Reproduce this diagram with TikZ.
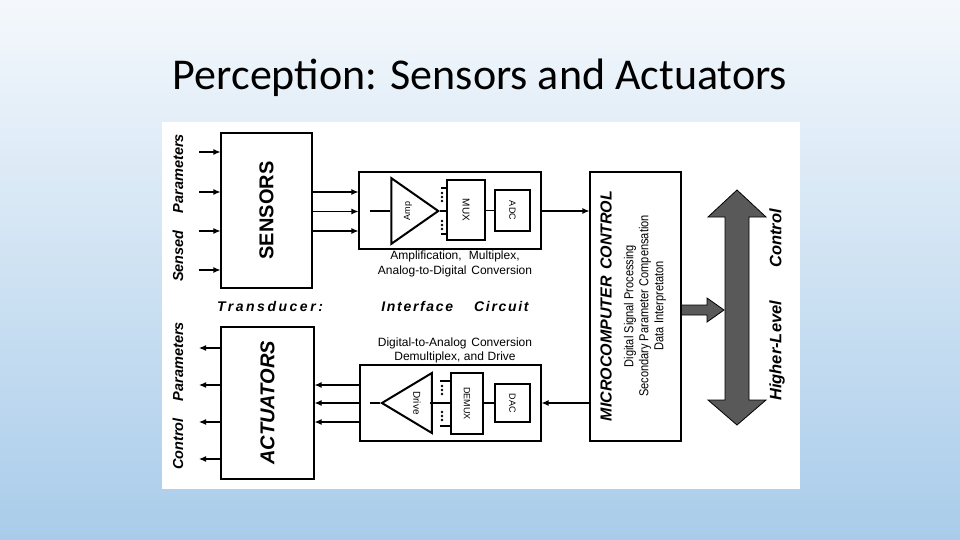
\documentclass[tikz,border=0pt]{standalone}
\usepackage{fontspec}
\setmainfont{Liberation Sans}
\newfontfamily\titlefont{Carlito}
\usetikzlibrary{arrows.meta,shapes.geometric}
\definecolor{bgtop}{HTML}{F4F8FC}
\definecolor{bgbot}{HTML}{A9CCEA}
\begin{document}
\begin{tikzpicture}[x=1pt,y=-1pt,
  box/.style={draw,line width=1.1pt,inner sep=0pt},
  thick box/.style={draw,line width=2pt,inner sep=0pt},
  sig/.style={line width=1.1pt,-{Latex[length=7pt,width=6pt]}},
  ln/.style={line width=1.1pt},
  lab/.style={font=\fontsize{12}{14.5}\selectfont},
  big/.style={font=\fontsize{14.5}{16}\selectfont\bfseries\itshape},
  dot/.style={fill,circle,inner sep=0pt,minimum size=2.6pt},
  fill shade/.style={fill=black!65,draw=black,line width=0.8pt}]
\useasboundingbox (0,0) rectangle (960,540);
\shade[top color=bgtop, bottom color=bgbot] (0,0) rectangle (960,540);
\node (title) at (480,78) {\titlefont\fontsize{44}{48}\selectfont Perception: Sensors and Actuators};
\fill[white] (162,122) rectangle (800,489);
% sensors
\node[box,minimum width=91,minimum height=155] (sen) at (266.5,210.5) {};
\node[rotate=90,font=\fontsize{20}{22}\selectfont\bfseries] (sent) at (sen.center) {SENSORS};
\node[rotate=90,big] (sp) at (178,208) {Sensed\hspace{1.2em}Parameters};
\foreach \y [count=\i] in {152,192,231,270}{\coordinate (si\i) at (199,\y); \draw[sig] (si\i) -- (si\i -| sen.west);}
% actuators
\node[box,minimum width=93,minimum height=152] (act) at (267.5,403) {};
\node[rotate=90,font=\fontsize{20}{22}\selectfont\bfseries\itshape] (actt) at (act.center) {ACTUATORS};
\node[rotate=90,big] (cp) at (178,396) {Control\hspace{1.2em}Parameters};
\foreach \y [count=\i] in {348,385,422,459}{\coordinate (ao\i) at (199,\y); \draw[sig] (ao\i -| act.west) -- (ao\i);}
% top interface
\node[box,minimum width=182,minimum height=77] (ti) at (450,210.5) {};
\foreach \y in {192,211.5,231}{\draw[sig] (sen.east |- 0,\y) -- (ti.west |- 0,\y);}
\node[isosceles triangle,draw,line width=2pt,minimum height=47,minimum width=62,isosceles triangle apex angle=70,anchor=apex,inner sep=0pt] (amp) at (440,211) {};
\node[rotate=90,font=\fontsize{9}{10}\selectfont] at (408,211) {Amp};
\draw[ln] (370,211) -- (amp.west);
\node[thick box,minimum width=38,minimum height=60] (mux) at (466,210) {};
\node[rotate=-90,font=\fontsize{10}{11}\selectfont] at (mux.center) {MUX};
\node[thick box,minimum width=35,minimum height=41] (adc) at (512.5,210.5) {};
\node[rotate=-90,font=\fontsize{9}{10}\selectfont] at (adc.center) {ADC};
\draw[ln] (amp.apex) -- (mux.west |- amp.apex);
\draw[ln] (441,188) -- (447,188) (441,234) -- (447,234);
\foreach \y in {193,197,201,221,225,229}{\node[dot] at (442,\y) {};}
\draw[ln] (mux.east |- adc.west) -- (adc.west);
\node[lab,align=center] (tt) at (455,264) {Amplification,\hspace{0.6em}Multiplex,\\Analog-to-Digital\hspace{0.4em}Conversion};
% labels row
\node[font=\fontsize{14}{16}\selectfont\bfseries\itshape\addfontfeature{LetterSpace=18}] (tr) at (270,306) {Transducer:};
\node[font=\fontsize{14}{16}\selectfont\bfseries\itshape\addfontfeature{LetterSpace=12}] (ic) at (455,306) {Interface\hspace{1.5em}Circuit};
% bottom interface
\node[lab,align=center] (bt) at (455,350.5) {Digital-to-Analog\hspace{0.4em}Conversion\\Demultiplex,\hspace{0.3em}and\hspace{0.3em}Drive};
\node[box,minimum width=181,minimum height=76] (bi) at (450.5,403) {};
\foreach \y in {385,403,422}{\draw[sig] (bi.west |- 0,\y) -- (act.east |- 0,\y);}
\node[isosceles triangle,draw,line width=2pt,minimum height=50,minimum width=54,isosceles triangle apex angle=62,shape border rotate=180,anchor=apex,inner sep=0pt] (drv) at (380,403) {};
\node[rotate=-90,font=\fontsize{10}{11}\selectfont] at (417,403) {Drive};
\draw[ln] (370,403) -- (drv.apex);
\node[thick box,minimum width=32,minimum height=61] (dmx) at (467,403.5) {};
\node[rotate=-90,font=\fontsize{9}{10}\selectfont] at (dmx.center) {DEMUX};
\node[thick box,minimum width=35,minimum height=38] (dac) at (512.5,403) {};
\node[rotate=-90,font=\fontsize{9}{10}\selectfont] at (dac.center) {DAC};
\draw[ln] (430,403) -- (dmx.west |- 0,403);
\draw[ln] (440,381) -- (451,381) (440,426) -- (451,426);
\foreach \y in {386,390,394,412,416,420}{\node[dot] at (442,\y) {};}
\draw[ln] (dmx.east |- dac.west) -- (dac.west);
% microcomputer
\node[box,minimum width=91,minimum height=269] (mc) at (635.5,306.5) {};
\node[rotate=90,font=\fontsize{16}{18}\selectfont\bfseries\itshape] (mct) at (606,306) {MICROCOMPUTER\hspace{0.4em}CONTROL};
\node[rotate=90,align=center,font=\fontsize{13}{15}\selectfont\addfontfeature{FakeStretch=0.85}] (mcs) at (645,306) {Digital Signal Processing\\Secondary Parameter Compensation\\Data\hspace{0.3em}Interpretaton};
\draw[sig] (ti.east |- 0,211) -- (mc.west |- 0,211);
\draw[sig] (mc.west |- 0,403) -- (bi.east |- 0,403);
% shaded arrows
\draw[fill shade] (mc.east |- 0,305) -- (707,305) -- (707,298) -- (724,310) -- (707,322) -- (707,315) -- (mc.east |- 0,315) -- cycle;
\draw[fill shade] (737,190) -- (766,217) -- (749,217) -- (749,400) -- (766,400) -- (737,425) -- (708,400) -- (725,400) -- (725,217) -- (708,217) -- cycle;
\node[rotate=90,font=\fontsize{16.5}{18}\selectfont\bfseries\itshape] (hlc) at (777,305) {Higher-Level\hspace{2em}Control};
\end{tikzpicture}
\end{document}
